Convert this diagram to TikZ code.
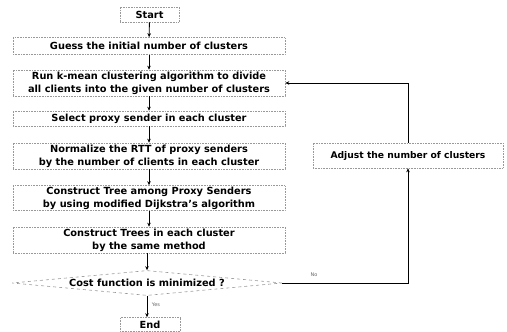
\documentclass[tikz,border=0pt]{standalone}
\usepackage{fontspec}
\setmainfont{DejaVu Sans}
\usetikzlibrary{arrows.meta,shapes.geometric}
\begin{document}
\begin{tikzpicture}[x=1pt,y=-1pt,
  procbox/.style={draw=black!40, densely dotted, line width=0.6pt, fill=white, align=center,
    font=\fontsize{9.8}{13}\selectfont\bfseries, inner sep=0pt},
  decbox/.style={draw=black!40, dashed, line width=0.6pt, diamond, aspect=10.5, inner sep=0pt,
    font=\fontsize{9.8}{13}\selectfont\bfseries},
  flow/.style={-{Stealth[length=4pt,width=3.5pt]}, line width=0.9pt, black},
  lbl/.style={font=\fontsize{5}{6}\selectfont, text=black!60}]
\useasboundingbox (0,0) rectangle (507,332);
\node[procbox, minimum width=59pt, minimum height=15pt] (start) at (149.5,14.5) {Start};
\node[procbox, minimum width=272pt, minimum height=17pt] (guess) at (149,46) {Guess the initial number of clusters};
\node[procbox, minimum width=272pt, minimum height=26pt] (run) at (149,83) {Run k-mean clustering algorithm to divide\\all clients into the given number of clusters};
\node[procbox, minimum width=272pt, minimum height=15pt] (select) at (149,118.5) {Select proxy sender in each cluster};
\node[procbox, minimum width=272pt, minimum height=26pt] (norm) at (149,156) {Normalize the RTT of proxy senders\\by the number of clients in each cluster};
\node[procbox, minimum width=272pt, minimum height=25pt] (tree) at (149,198) {Construct Tree among Proxy Senders\\by using modified Dijkstra's algorithm};
\node[procbox, minimum width=272pt, minimum height=26pt] (trees) at (149,240) {Construct Trees in each cluster\\by the same method};
\node[decbox, minimum width=270pt, minimum height=25pt] (cost) at (147,283) {Cost function is minimized ?};
\node[procbox, minimum width=60pt, minimum height=14pt] (end) at (150,324.5) {End};
\node[procbox, minimum width=190pt, minimum height=25pt, font=\fontsize{9.2}{12}\selectfont\bfseries] (adjust) at (408,155.5) {Adjust the number of clusters};
\draw[flow] (start) -- (guess);
\draw[flow] (guess) -- (run);
\draw[flow] (run) -- (select);
\draw[flow] (select) -- (norm);
\draw[flow] (norm) -- (tree);
\draw[flow] (tree) -- (trees);
\draw[flow] (trees.south -| cost.north) -- (cost.north);
\draw[flow] (cost.south) -- (end.north -| cost.south);
\draw[flow] (cost.east) -- (cost.east -| adjust) -- (adjust.south);
\draw[flow] (adjust.north) -- (adjust.north |- run.east) -- (run.east);
\node[lbl] (yes) at (156,305) {Yes};
\node[lbl] (no) at (314,275) {No};
\end{tikzpicture}
\end{document}
